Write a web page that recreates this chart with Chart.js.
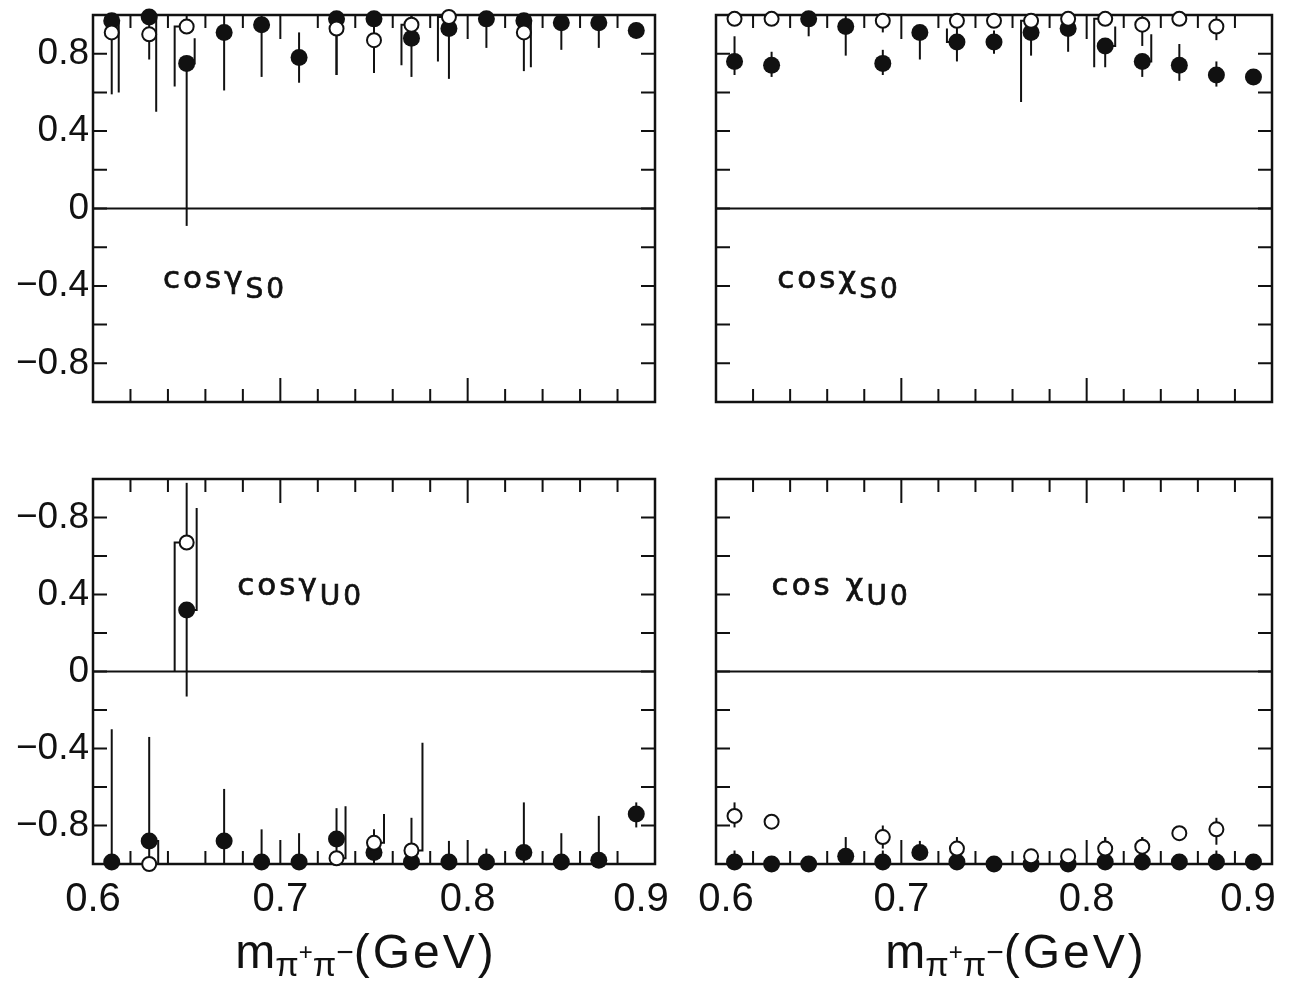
<!DOCTYPE html>
<html>
<head>
<meta charset="utf-8">
<script src="https://cdn.jsdelivr.net/npm/chart.js@4.4.0/dist/chart.umd.min.js"></script>
<style>
  html, body { margin: 0; padding: 0; background: #fff; }
  body { width: 1310px; height: 981px; position: relative; overflow: hidden; }
  .panel { position: absolute; }
</style>
</head>
<body>
<div class="panel" style="left:0;top:0"><canvas id="gammaS" width="680" height="420"></canvas></div>
<div class="panel" style="left:680px;top:0"><canvas id="chiS" width="630" height="420"></canvas></div>
<div class="panel" style="left:0;top:460px"><canvas id="gammaU" width="680" height="521"></canvas></div>
<div class="panel" style="left:680px;top:460px"><canvas id="chiU" width="630" height="521"></canvas></div>
<script>
const N = null;

// mass bins (GeV)
const massBins = [0.61, 0.63, 0.65, 0.67, 0.69, 0.71, 0.73, 0.75, 0.77, 0.79, 0.81, 0.83, 0.85, 0.87, 0.89];

// tick labels
const xTickValues = [0.6, 0.7, 0.8, 0.9];
const xTickLabels = ['0.6', '0.7', '0.8', '0.9'];
const yTickValues = [-0.8, -0.4, 0, 0.4, 0.8];
const yTickLabelsTop = ['\u22120.8', '\u22120.4', '0', '0.4', '0.8'];
const yTickLabelsBottom = ['\u22120.8', '\u22120.4', '0', '0.4', '\u22120.8'];

// cos gamma S0
const gsFilled   = [0.97, 0.99, 0.75, 0.91, 0.95, 0.78, 0.98, 0.98, 0.88, 0.93, 0.98, 0.97, 0.96, 0.96, 0.92];
const gsFilledLo = [0.60, 0.50, -0.09, 0.61, 0.68, 0.65, 0.69, 0.70, 0.68, 0.67, 0.83, 0.73, 0.82, 0.83, 0.88];
const gsFilledHi = [1.05, 1.05, 0.88, 1.05, 1.05, 0.91, 1.05, 1.05, 1.05, 1.05, 1.05, 1.05, 1.05, 1.05, 0.96];
const gsOpen     = [0.91, 0.90, 0.94, N, N, N, 0.93, 0.87, 0.95, 0.99, N, 0.91, N, N, N];
const gsOpenLo   = [0.59, 0.77, 0.63, N, N, N, 0.69, 0.70, 0.74, 0.76, N, 0.71, N, N, N];
const gsOpenHi   = [1.05, 1.05, 1.05, N, N, N, 1.05, 1.05, 1.05, 1.05, N, 1.05, N, N, N];

// cos chi S0
const csFilled   = [0.76, 0.74, 0.98, 0.94, 0.75, 0.91, 0.86, 0.86, 0.91, 0.93, 0.84, 0.76, 0.74, 0.69, 0.68];
const csFilledLo = [0.69, 0.68, 0.89, 0.79, 0.69, 0.77, 0.76, 0.80, 0.79, 0.81, 0.73, 0.68, 0.66, 0.63, 0.68];
const csFilledHi = [0.89, 0.81, 1.05, 1.05, 0.82, 0.94, 0.93, 0.92, 1.05, 1.05, 0.94, 0.90, 0.85, 0.76, 0.68];
const csOpen     = [0.98, 0.98, N, N, 0.97, N, 0.97, 0.97, 0.97, 0.98, 0.98, 0.95, 0.98, 0.94, N];
const csOpenLo   = [0.98, 0.98, N, N, 0.91, N, 0.90, 0.97, 0.55, 0.98, 0.73, 0.84, 0.98, 0.87, N];
const csOpenHi   = [1.00, 1.00, N, N, 1.00, N, 1.00, 1.00, 1.00, 1.00, 1.00, 1.00, 1.00, 1.00, N];

// cos gamma U0
const guFilled   = [-0.99, -0.88, 0.32, -0.88, -0.99, -0.99, -0.87, -0.94, -0.99, -0.99, -0.99, -0.94, -0.99, -0.98, -0.74];
const guFilledLo = [-1.05, -1.00, -0.13, -1.05, -1.05, -1.05, -1.05, -1.05, -1.05, -1.05, -1.05, -1.05, -1.05, -1.05, -0.81];
const guFilledHi = [-0.30, -0.34, 0.85, -0.61, -0.82, -0.84, -0.71, -0.82, -0.76, -0.88, -0.92, -0.68, -0.84, -0.75, -0.68];
const guOpen     = [N, -1.00, 0.67, N, N, N, -0.97, -0.89, -0.93, N, N, N, N, N, N];
const guOpenLo   = [N, -1.05, 0.00, N, N, N, -1.05, -0.97, -1.00, N, N, N, N, N, N];
const guOpenHi   = [N, -0.88, 0.98, N, N, N, -0.70, -0.74, -0.37, N, N, N, N, N, N];

// cos chi U0
const cuFilled   = [-0.99, -1.00, -1.00, -0.96, -0.99, -0.94, -0.99, -1.00, -1.00, -1.00, -0.99, -0.99, -0.99, -0.99, -0.99];
const cuFilledLo = [-1.04, -1.04, -1.02, -1.00, -1.04, -0.98, -1.04, -1.03, -1.00, -1.00, -1.00, -1.00, -1.00, -1.08, -1.04];
const cuFilledHi = [-0.93, -1.00, -1.00, -0.86, -0.93, -0.88, -0.86, -0.97, -1.00, -1.00, -0.86, -0.86, -0.99, -0.93, -0.97];
const cuOpen     = [-0.75, -0.78, N, N, -0.86, N, -0.92, N, -0.96, -0.96, -0.92, -0.91, -0.84, -0.82, N];
const cuOpenLo   = [-0.81, -0.78, N, N, -0.92, N, -0.92, N, -0.96, -0.96, -0.92, -0.91, -0.84, -0.90, N];
const cuOpenHi   = [-0.68, -0.78, N, N, -0.80, N, -0.88, N, -0.96, -0.96, -0.86, -0.86, -0.84, -0.76, N];

const tickFont = "'Liberation Sans', Arial, sans-serif";
const textFont = "'DejaVu Sans', sans-serif";

function points(vals, lo, hi) {
  return massBins
    .map((m, i) => ({ i: i, x: m, y: vals[i], lo: lo[i], hi: hi[i] }))
    .filter(p => p.y !== null);
}

function labelFor(values, labels, v) {
  const i = values.findIndex(t => Math.abs(t - v) < 1e-6);
  return i >= 0 ? labels[i] : '';
}

// frame, inward ticks, zero line, error bars, panel label and axis title
const paperPlugin = {
  id: 'paper',
  beforeDatasetsDraw(chart, args, opts) {
    const { ctx, chartArea: a, scales: { x, y } } = chart;
    ctx.save();
    ctx.strokeStyle = '#111';
    ctx.lineCap = 'butt';

    // ticks
    ctx.lineWidth = 2;
    x.ticks.forEach(t => {
      const px = x.getPixelForValue(t.value);
      if (px < a.left + 2 || px > a.right - 2) return;
      const major = labelFor(xTickValues, xTickLabels, t.value) !== '';
      const len = major ? 24 : 13;
      ctx.beginPath();
      ctx.moveTo(px, a.top); ctx.lineTo(px, a.top + len);
      ctx.moveTo(px, a.bottom); ctx.lineTo(px, a.bottom - len);
      ctx.stroke();
    });
    y.ticks.forEach(t => {
      const py = y.getPixelForValue(t.value);
      if (py < a.top + 2 || py > a.bottom - 2) return;
      ctx.beginPath();
      ctx.moveTo(a.left, py); ctx.lineTo(a.left + 14, py);
      ctx.moveTo(a.right, py); ctx.lineTo(a.right - 14, py);
      ctx.stroke();
    });

    // zero line
    const y0 = y.getPixelForValue(0);
    ctx.beginPath(); ctx.moveTo(a.left, y0); ctx.lineTo(a.right, y0); ctx.stroke();

    // frame
    ctx.lineWidth = 2.5;
    ctx.strokeRect(a.left, a.top, a.right - a.left, a.bottom - a.top);

    // error bars (some halves drawn as side brackets, as in the original)
    ctx.beginPath();
    ctx.rect(a.left, a.top, a.right - a.left, a.bottom - a.top);
    ctx.clip();
    ctx.lineWidth = 2;
    const shiftOf = (series, i, side) => {
      const b = (opts.brackets || []).find(q => q.s === series && q.i === i && q.side === side);
      return b ? b.dx : 0;
    };
    chart.data.datasets.forEach(ds => {
      ds.data.forEach(p => {
        const px = x.getPixelForValue(p.x);
        const py = y.getPixelForValue(p.y);
        [['lo', p.lo], ['hi', p.hi]].forEach(([side, v]) => {
          const dx = shiftOf(ds.label, p.i, side);
          ctx.beginPath();
          if (dx) { ctx.moveTo(px, py); ctx.lineTo(px + dx, py); }
          else ctx.moveTo(px, py);
          ctx.lineTo(px + dx, y.getPixelForValue(v));
          ctx.stroke();
        });
      });
    });
    ctx.restore();
  },
  afterDraw(chart, args, opts) {
    const { ctx, chartArea: a, scales: { x, y } } = chart;
    ctx.save();
    ctx.fillStyle = '#111';
    ctx.strokeStyle = '#111';
    ctx.lineWidth = 0.7;
    ctx.textBaseline = 'alphabetic';
    ctx.textAlign = 'left';

    // panel label
    let px = x.getPixelForValue(opts.labelAt[0]);
    const py = y.getPixelForValue(opts.labelAt[1]);
    ctx.letterSpacing = '3px';
    ctx.font = '31px ' + textFont;
    ctx.fillText(opts.label, px, py);
    ctx.strokeText(opts.label, px, py);
    px += ctx.measureText(opts.label).width;
    ctx.font = '28px ' + textFont;
    ctx.fillText(opts.sub, px, py + 10);
    ctx.strokeText(opts.sub, px, py + 10);
    ctx.letterSpacing = '0px';

    // axis title m_{pi+ pi-} (GeV)
    if (opts.title) {
      const parts = [
        { t: 'm', f: '48px ' + tickFont, dy: 0 },
        { t: '\u03C0', f: '34px ' + tickFont, dy: 8 },
        { t: '+', f: '24px ' + tickFont, dy: -8 },
        { t: '\u03C0', f: '34px ' + tickFont, dy: 8 },
        { t: '\u2212', f: '30px ' + tickFont, dy: -6 },
        { t: '(GeV)', f: '48px ' + tickFont, dy: 0, ls: '3px' }
      ];
      let w = 0;
      parts.forEach(p => {
        ctx.font = p.f; ctx.letterSpacing = p.ls || '0px';
        p.w = ctx.measureText(p.t).width; w += p.w;
      });
      let tx = (a.left + a.right) / 2 + opts.titleShift - w / 2;
      const ty = a.bottom + 104;
      parts.forEach(p => {
        ctx.font = p.f; ctx.letterSpacing = p.ls || '0px';
        ctx.fillText(p.t, tx, ty + p.dy); tx += p.w;
      });
    }
    ctx.restore();
  }
};

function makePanel(id, cfg) {
  const ctx = document.getElementById(id).getContext('2d');
  return new Chart(ctx, {
    type: 'scatter',
    data: {
      datasets: [
        {
          label: 'open',
          data: points(cfg.open, cfg.openLo, cfg.openHi),
          pointRadius: 7,
          pointHoverRadius: 7,
          pointBackgroundColor: '#fff',
          pointBorderColor: '#111',
          pointBorderWidth: 2,
          clip: false
        },
        {
          label: 'filled',
          data: points(cfg.filled, cfg.filledLo, cfg.filledHi),
          pointRadius: 8.5,
          pointHoverRadius: 8.5,
          pointBackgroundColor: '#111',
          pointBorderColor: '#111',
          pointBorderWidth: 0,
          clip: false
        }
      ]
    },
    options: {
      responsive: false,
      animation: false,
      events: [],
      layout: { padding: cfg.padding },
      plugins: {
        legend: { display: false },
        tooltip: { enabled: false },
        paper: {
          label: cfg.label,
          sub: cfg.sub,
          labelAt: cfg.labelAt,
          title: cfg.showX,
          titleShift: cfg.titleShift,
          brackets: cfg.brackets
        }
      },
      scales: {
        x: {
          type: 'linear',
          min: 0.6,
          max: 0.9,
          border: { display: false },
          grid: { display: false, drawTicks: false },
          ticks: {
            display: cfg.showX,
            stepSize: 0.02,
            autoSkip: false,
            maxRotation: 0,
            padding: 12,
            color: '#111',
            font: { family: tickFont, size: 40 },
            callback: v => {
              const s = labelFor(xTickValues, xTickLabels, v);
              if (Math.abs(v - 0.6) < 1e-6) return cfg.padFirst + s;
              if (Math.abs(v - 0.9) < 1e-6) return s + cfg.padLast;
              return s;
            }
          },
          afterFit: s => {
            s.height = cfg.xHeight;
            s.paddingLeft = 0;
            s.paddingRight = 0;
          }
        },
        y: {
          min: -1,
          max: 1,
          border: { display: false },
          grid: { display: false, drawTicks: false },
          ticks: {
            display: cfg.showY,
            stepSize: 0.2,
            autoSkip: false,
            padding: 4,
            color: '#111',
            font: { family: tickFont, size: 37 },
            callback: v => labelFor(yTickValues, cfg.yLabels, v)
          },
          afterFit: s => {
            s.width = cfg.yWidth;
            s.paddingTop = 0;
            s.paddingBottom = 0;
          }
        }
      }
    },
    plugins: [paperPlugin]
  });
}

makePanel('gammaS', {
  filled: gsFilled, filledLo: gsFilledLo, filledHi: gsFilledHi,
  open: gsOpen, openLo: gsOpenLo, openHi: gsOpenHi,
  label: 'cos\u03B3', sub: 'S0', labelAt: [0.6374, -0.41],
  yLabels: yTickLabelsTop, showX: false, showY: true,
  xHeight: 0, yWidth: 93, titleShift: 0, padFirst: '', padLast: '',
  padding: { left: 0, right: 25, top: 15, bottom: 18 },
  brackets: [
    { i: 0, s: 'filled', side: 'lo', dx: 7 },
    { i: 1, s: 'filled', side: 'lo', dx: 7 },
    { i: 2, s: 'open', side: 'lo', dx: -12 },
    { i: 2, s: 'filled', side: 'hi', dx: 8 },
    { i: 8, s: 'open', side: 'lo', dx: -10 },
    { i: 9, s: 'open', side: 'lo', dx: -11 },
    { i: 11, s: 'filled', side: 'lo', dx: 7 }
  ]
});
makePanel('chiS', {
  filled: csFilled, filledLo: csFilledLo, filledHi: csFilledHi,
  open: csOpen, openLo: csOpenLo, openHi: csOpenHi,
  label: 'cos\u03C7', sub: 'S0', labelAt: [0.633, -0.41],
  yLabels: yTickLabelsTop, showX: false, showY: false,
  xHeight: 0, yWidth: 36, titleShift: 0, padFirst: '', padLast: '',
  padding: { left: 0, right: 38, top: 15, bottom: 18 },
  brackets: [
    { i: 6, s: 'filled', side: 'hi', dx: -10 },
    { i: 8, s: 'open', side: 'lo', dx: -10 },
    { i: 10, s: 'open', side: 'lo', dx: -11 },
    { i: 10, s: 'filled', side: 'hi', dx: 10 },
    { i: 11, s: 'filled', side: 'hi', dx: 9 }
  ]
});
makePanel('gammaU', {
  filled: guFilled, filledLo: guFilledLo, filledHi: guFilledHi,
  open: guOpen, openLo: guOpenLo, openHi: guOpenHi,
  label: 'cos\u03B3', sub: 'U0', labelAt: [0.677, 0.40],
  yLabels: yTickLabelsBottom, showX: true, showY: true,
  xHeight: 117, yWidth: 93, titleShift: -8, padFirst: '', padLast: '\u2002\u2009',
  padding: { left: 0, right: 25, top: 19, bottom: 0 },
  brackets: [
    { i: 1, s: 'filled', side: 'lo', dx: 9 },
    { i: 2, s: 'open', side: 'lo', dx: -12 },
    { i: 2, s: 'filled', side: 'hi', dx: 10 },
    { i: 6, s: 'open', side: 'hi', dx: 9 },
    { i: 7, s: 'open', side: 'hi', dx: 10 },
    { i: 8, s: 'open', side: 'hi', dx: 11 }
  ]
});
makePanel('chiU', {
  filled: cuFilled, filledLo: cuFilledLo, filledHi: cuFilledHi,
  open: cuOpen, openLo: cuOpenLo, openHi: cuOpenHi,
  label: 'cos \u03C7', sub: 'U0', labelAt: [0.630, 0.40],
  yLabels: yTickLabelsBottom, showX: true, showY: false,
  xHeight: 117, yWidth: 36, titleShift: 22, padFirst: '\u2002', padLast: '\u2003\u2009',
  padding: { left: 0, right: 38, top: 19, bottom: 0 },
  brackets: []
});
</script>
</body>
</html>
